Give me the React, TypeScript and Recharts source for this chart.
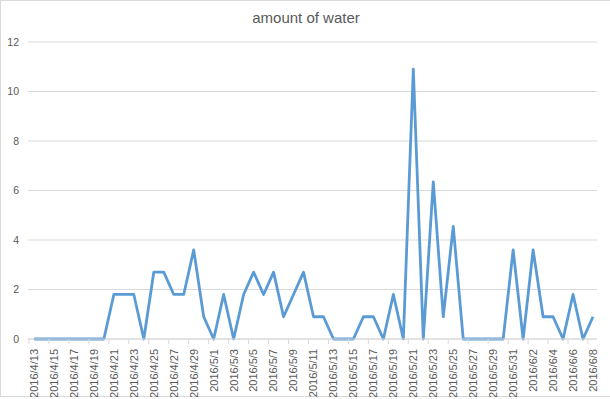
import React from 'react';
import { LineChart, Line, XAxis, YAxis, CartesianGrid } from 'recharts';

const dates = [
  '2016/4/13', '2016/4/14', '2016/4/15', '2016/4/16', '2016/4/17', '2016/4/18', '2016/4/19',
  '2016/4/20', '2016/4/21', '2016/4/22', '2016/4/23', '2016/4/24', '2016/4/25', '2016/4/26',
  '2016/4/27', '2016/4/28', '2016/4/29', '2016/4/30', '2016/5/1', '2016/5/2', '2016/5/3',
  '2016/5/4', '2016/5/5', '2016/5/6', '2016/5/7', '2016/5/8', '2016/5/9', '2016/5/10',
  '2016/5/11', '2016/5/12', '2016/5/13', '2016/5/14', '2016/5/15', '2016/5/16', '2016/5/17',
  '2016/5/18', '2016/5/19', '2016/5/20', '2016/5/21', '2016/5/22', '2016/5/23', '2016/5/24',
  '2016/5/25', '2016/5/26', '2016/5/27', '2016/5/28', '2016/5/29', '2016/5/30', '2016/5/31',
  '2016/6/1', '2016/6/2', '2016/6/3', '2016/6/4', '2016/6/5', '2016/6/6', '2016/6/7', '2016/6/8'
];

const water = [
  0, 0, 0, 0, 0, 0, 0,
  0, 1.8, 1.8, 1.8, 0, 2.7, 2.7,
  1.8, 1.8, 3.6, 0.9, 0, 1.8, 0,
  1.8, 2.7, 1.8, 2.7, 0.9, 1.8, 2.7,
  0.9, 0.9, 0, 0, 0, 0.9, 0.9,
  0, 1.8, 0, 10.9, 0, 6.35, 0.9,
  4.55, 0, 0, 0, 0, 0, 3.6,
  0, 3.6, 0.9, 0.9, 0, 1.8, 0, 0.9
];

const yTicks = [0, 2, 4, 6, 8, 10, 12];

const data = dates.map((d, i) => ({ date: d, water: water[i] }));

const font = '"Liberation Sans", Arial, sans-serif';

const DateTick = (props: any) => {
  const { x, y, payload } = props;
  return (
    <g transform={`translate(${x},${y})`}>
      <line x1={-5} x2={-5} y1={-6} y2={-1} stroke="#d9d9d9" />
      <text
        transform="rotate(-90)"
        x={-4}
        y={0}
        dy="0.35em"
        textAnchor="end"
        fill="#595959"
        fontSize={11}
        fontFamily={font}
      >
        {payload.value}
      </text>
    </g>
  );
};

export default function App() {
  return (
    <div
      style={{
        position: 'relative',
        width: 610,
        height: 397,
        borderTop: '1px solid #d9d9d9',
        borderLeft: '1px solid #d9d9d9',
        borderBottom: '1px solid #d9d9d9',
        boxSizing: 'border-box',
        background: '#fff'
      }}
    >
      <style>{'body{margin:0}'}</style>
      <div
        style={{
          position: 'absolute',
          left: 0,
          width: 610,
          top: 8,
          textAlign: 'center',
          fontFamily: font,
          fontSize: 15,
          color: '#595959'
        }}
      >
        amount of water
      </div>
      <div style={{ position: 'absolute', left: -1, top: -1 }}>
        <LineChart
          width={610}
          height={399}
          data={data}
          margin={{ top: 42, right: 13, left: 0, bottom: 0 }}
        >
          <CartesianGrid vertical={false} stroke="#d9d9d9" />
          <XAxis
            dataKey="date"
            interval={1}
            height={60}
            padding={{ left: 6, right: 4 }}
            axisLine={{ stroke: '#d9d9d9' }}
            tickLine={false}
            tickSize={6}
            tickMargin={0}
            tick={<DateTick />}
          />
          <YAxis
            width={28}
            domain={[0, 12]}
            ticks={yTicks}
            axisLine={false}
            tickLine={false}
            tickMargin={3}
            tick={{ fill: '#595959', fontSize: 10.5, fontFamily: font }}
          />
          <Line
            type="linear"
            dataKey="water"
            stroke="#5b9bd5"
            strokeWidth={2.8}
            strokeLinejoin="round"
            dot={false}
            isAnimationActive={false}
          />
        </LineChart>
      </div>
    </div>
  );
}
